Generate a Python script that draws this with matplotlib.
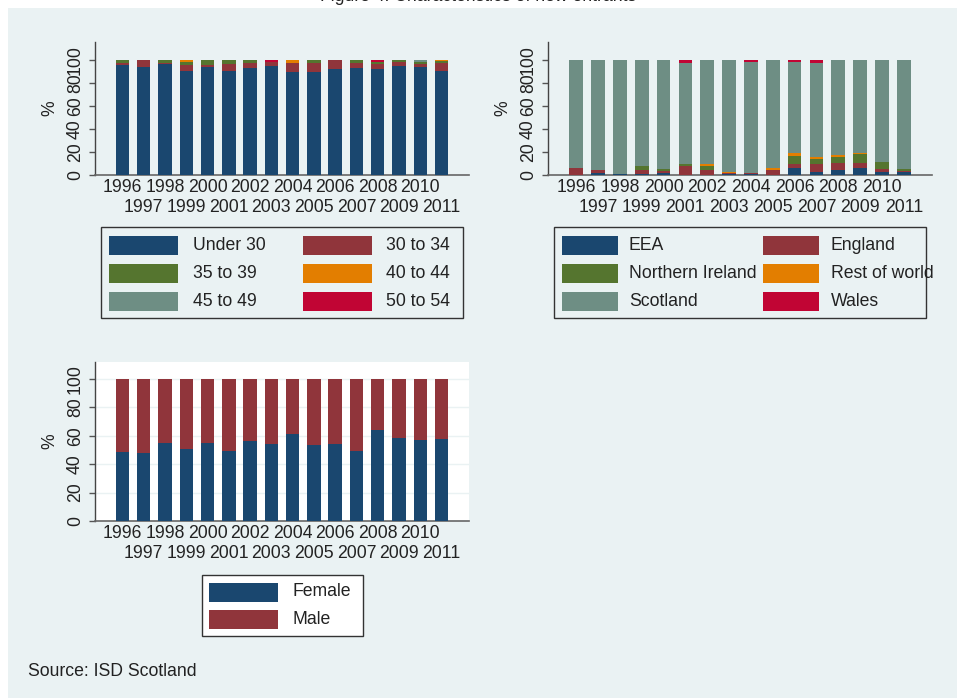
import matplotlib
matplotlib.use("Agg")
import matplotlib.pyplot as plt
from matplotlib.patches import Rectangle
import numpy as np

plt.rcParams['font.family'] = ['Liberation Sans', 'DejaVu Sans']

# ---------------- data ----------------
years = list(range(1996, 2012))

age_groups = ["Under 30", "30 to 34", "35 to 39", "40 to 44", "45 to 49", "50 to 54"]
age_under30 = [95.5, 94.2, 96.5, 90.0, 94.0, 90.4, 93.0, 95.0, 89.9, 89.9, 92.2, 93.3, 92.2, 94.5, 93.9, 90.7]
age_30_34   = [1.5, 5.8, 1.2, 5.5, 2.0, 6.1, 4.6, 3.5, 7.2, 7.2, 7.8, 3.8, 4.3, 4.1, 2.6, 6.7]
age_35_39   = [3.0, 0.0, 2.3, 2.5, 4.0, 3.5, 2.4, 0.0, 0.0, 2.9, 0.0, 2.9, 2.0, 1.4, 1.4, 1.7]
age_40_44   = [0.0, 0.0, 0.0, 2.0, 0.0, 0.0, 0.0, 0.0, 2.9, 0.0, 0.0, 0.0, 0.0, 0.0, 0.6, 0.9]
age_45_49   = [0.0, 0.0, 0.0, 0.0, 0.0, 0.0, 0.0, 0.0, 0.0, 0.0, 0.0, 0.0, 0.0, 0.0, 1.5, 0.0]
age_50_54   = [0.0, 0.0, 0.0, 0.0, 0.0, 0.0, 0.0, 1.5, 0.0, 0.0, 0.0, 0.0, 1.5, 0.0, 0.0, 0.0]

origins = ["EEA", "England", "Northern Ireland", "Rest of world", "Scotland", "Wales"]
orig_eea      = [0.0, 1.4, 1.2, 1.2, 1.7, 0.0, 0.0, 0.9, 1.2, 0.0, 5.8, 2.6, 4.3, 6.4, 2.3, 2.6]
orig_england  = [6.4, 2.9, 0.0, 3.5, 1.7, 8.1, 4.6, 0.6, 0.9, 4.6, 4.1, 7.0, 6.1, 4.3, 2.9, 0.6]
orig_nireland = [0.0, 0.0, 0.0, 3.2, 1.7, 1.7, 3.5, 0.0, 0.0, 0.0, 7.0, 4.3, 5.2, 7.5, 6.1, 1.7]
orig_rest     = [0.0, 0.0, 0.0, 0.0, 0.0, 0.0, 1.7, 1.2, 0.0, 1.7, 2.0, 2.0, 1.4, 0.6, 0.0, 0.0]
orig_wales    = [0.0, 0.0, 0.0, 0.0, 0.0, 2.3, 0.0, 0.0, 2.0, 0.0, 2.0, 2.9, 0.0, 0.0, 0.0, 0.0]
orig_scotland = [100 - a - b - c - d - e for a, b, c, d, e in
                 zip(orig_eea, orig_england, orig_nireland, orig_rest, orig_wales)]

sexes = ["Female", "Male"]
sex_female = [48.8, 47.9, 55.2, 50.5, 55.2, 49.5, 56.3, 54.5, 61.3, 53.3, 54.5, 49.5, 64.1, 58.5, 57.0, 57.7]
sex_male = [100 - f for f in sex_female]

# ---------------- style ----------------
NAVY, MAROON, FOREST, ORANGE, TEAL, CRANBERRY = (
    "#1a476f", "#90353b", "#55752f", "#e37e00", "#6e8e84", "#c10534")
PALETTE = [NAVY, MAROON, FOREST, ORANGE, TEAL, CRANBERRY]
BG = "#eaf2f3"
TXT = "#222222"
FS = 12.7

W, H = 957, 698
fig = plt.figure(figsize=(W / 100, H / 100), dpi=100, facecolor="white")

# outer graph region
frame = fig.add_axes([0, 0, 1, 1], zorder=-5)
frame.set_xlim(0, W)
frame.set_ylim(H, 0)
frame.axis("off")
frame.add_patch(Rectangle((8, 8), W - 8, H - 8, facecolor=BG, edgecolor="none"))
frame.text(W / 2, 1, "Figure 4: Characteristics of new entrants",
           ha="center", va="baseline", fontsize=FS, color=TXT)
frame.text(28, 672, "Source: ISD Scotland", ha="left", va="center",
           fontsize=FS, color=TXT)


def px_axes(left, top, right, bottom):
    return fig.add_axes([left / W, 1 - bottom / H, (right - left) / W, (bottom - top) / H])


def stacked_panel(ax, series, colors, ymax, face, grid):
    x = np.arange(len(years))
    cum = np.zeros(len(years))
    for vals, col in zip(series, colors):
        v = np.array(vals, dtype=float)
        ax.bar(x, v, bottom=cum, width=0.63, color=col, edgecolor="none", zorder=3)
        cum += v
    ax.set_facecolor(face)
    ax.set_xlim(-1.29, len(years) - 1 + 1.29)
    ax.set_ylim(0, ymax)
    ax.set_yticks([0, 20, 40, 60, 80, 100])
    ax.set_yticklabels(["0", "20", "40", "60", "80", "100"], rotation=90,
                       va="center", fontsize=FS, color=TXT)
    # year labels staggered on two rows: even years on top, odd years below
    ax.set_xticks(x[::2])
    ax.set_xticklabels([str(y) for y in years[::2]], fontsize=FS, color=TXT)
    ax.set_xticks(x[1::2], minor=True)
    ax.set_xticklabels([str(y) for y in years[1::2]], minor=True, fontsize=FS, color=TXT)
    ax.tick_params(axis="x", which="major", length=0, pad=3)
    ax.tick_params(axis="x", which="minor", length=0, pad=17)
    ax.tick_params(axis="y", length=4, width=1, color="#555555", pad=4)
    for s in ("top", "right"):
        ax.spines[s].set_visible(False)
    ax.spines["left"].set_color("#444444")
    ax.spines["bottom"].set_color("#666666")
    ax.spines["left"].set_linewidth(1)
    ax.spines["bottom"].set_linewidth(1.2)
    ax.set_ylabel("%", fontsize=FS, color=TXT, labelpad=6)
    if grid:
        ax.yaxis.grid(True, which="major", color=BG, linewidth=1, zorder=0)
        ax.set_axisbelow(True)


ax1 = px_axes(95, 42, 469, 175)
stacked_panel(ax1, [age_under30, age_30_34, age_35_39, age_40_44, age_45_49, age_50_54],
              PALETTE, 115.6, BG, False)

ax2 = px_axes(548, 42, 932, 175)
stacked_panel(ax2, [orig_eea, orig_england, orig_nireland, orig_rest, orig_scotland, orig_wales],
              PALETTE, 115.6, BG, False)

ax3 = px_axes(95, 362, 469, 521)
stacked_panel(ax3, [sex_female, sex_male], [NAVY, MAROON], 112.0, "white", True)


def draw_legend(box, labels, colors, col_patch_x, col_text_x, row_y, patch_w, face):
    l, t, r, b = box
    frame.add_patch(Rectangle((l, t), r - l, b - t, facecolor=face,
                              edgecolor="#333333", linewidth=1, zorder=1))
    ncol = len(col_patch_x)
    for i, (lab, col) in enumerate(zip(labels, colors)):
        row, c = divmod(i, ncol)
        y = row_y[row]
        frame.add_patch(Rectangle((col_patch_x[c], y - 9.5), patch_w, 19,
                                  facecolor=col, edgecolor="none", zorder=2))
        frame.text(col_text_x[c], y, lab, ha="left", va="center",
                   fontsize=FS, color=TXT, zorder=3)


draw_legend((101, 227, 463, 318), age_groups, PALETTE,
            [109, 303], [193, 386], [245, 273, 301], 69, BG)
draw_legend((554, 227, 926, 318), origins, PALETTE,
            [562, 763], [629, 831], [245, 273, 301], 56, BG)
draw_legend((202, 575, 363, 636), sexes, [NAVY, MAROON],
            [209], [292], [592, 619], 69, "white")

fig.savefig("out.png", dpi=100, facecolor=fig.get_facecolor())
